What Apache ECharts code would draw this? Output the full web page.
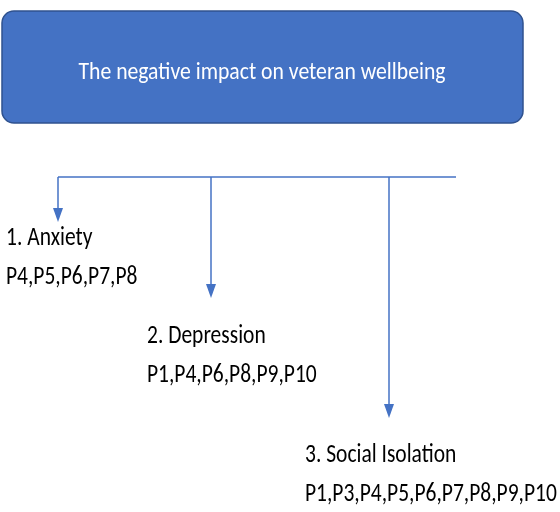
<!DOCTYPE html>
<html>
<head>
<meta charset="utf-8">
<script src="https://cdn.jsdelivr.net/npm/echarts@6/dist/echarts.min.js"></script>
<style>
  html, body { margin: 0; padding: 0; background: #fff; }
  #main { width: 560px; height: 512px; }
</style>
</head>
<body>
<div id="main"></div>
<script>
// diagram content
var rootTitle = 'The negative impact on veteran wellbeing';
var themes = ['1. Anxiety', '2. Depression', '3. Social Isolation'];
var participants = [
  ['P4', 'P5', 'P6', 'P7', 'P8'],
  ['P1', 'P4', 'P6', 'P8', 'P9', 'P10'],
  ['P1', 'P3', 'P4', 'P5', 'P6', 'P7', 'P8', 'P9', 'P10']
];

// layout (pixels)
var branchX = [58, 211, 389];
var arrowTipY = [222, 298, 418];
var labelX = [6, 147, 305];
var labelY = [258, 356, 475];
var busY = 177, busEnd = 456;

var blue = '#4472C4';
var font = 'Carlito';

var myChart = echarts.init(document.getElementById('main'));

var elements = [];
elements.push({
  type: 'rect',
  shape: { x: 2, y: 11, width: 521, height: 112, r: 12 },
  style: { fill: blue, stroke: '#2F528F', lineWidth: 1.5 }
});
// source image is slightly stretched vertically, hence scaleY
elements.push({
  type: 'text',
  x: 262, y: 73, scaleY: 1.12,
  style: {
    text: rootTitle, fill: '#fff', fontSize: 21.7, fontFamily: font,
    align: 'center', verticalAlign: 'middle'
  }
});
// horizontal connector
elements.push({
  type: 'line',
  shape: { x1: branchX[0], y1: busY, x2: busEnd, y2: busY },
  style: { stroke: blue, lineWidth: 1.5 }
});

themes.forEach(function (t, i) {
  var x = branchX[i], tip = arrowTipY[i];
  elements.push({
    type: 'line',
    shape: { x1: x, y1: busY, x2: x, y2: tip - 12 },
    style: { stroke: blue, lineWidth: 1.5 }
  });
  elements.push({
    type: 'polygon',
    shape: { points: [[x - 5, tip - 14], [x + 5, tip - 14], [x, tip]] },
    style: { fill: blue }
  });
  elements.push({
    type: 'text',
    x: labelX[i], y: labelY[i], scaleY: 1.2,
    style: {
      text: t + '\n' + participants[i].join(','),
      fill: '#000', fontSize: 21.5, fontFamily: font, lineHeight: 33,
      align: 'left', verticalAlign: 'middle'
    }
  });
});

myChart.setOption({
  animation: false,
  graphic: { elements: elements }
});
</script>
</body>
</html>
